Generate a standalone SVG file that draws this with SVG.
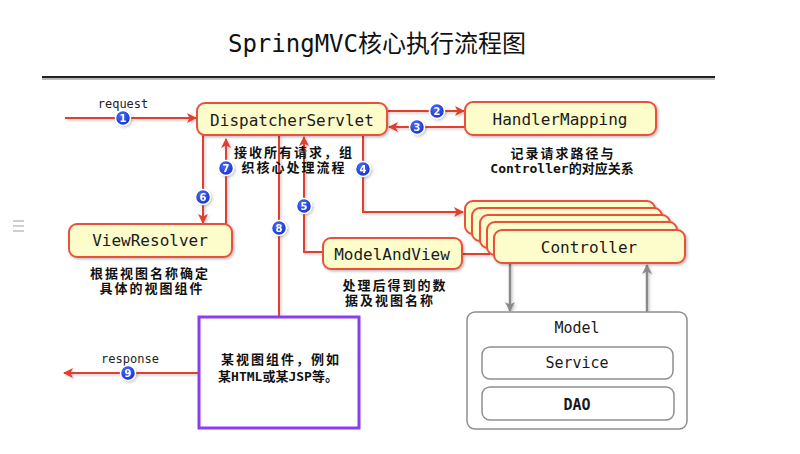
<svg xmlns="http://www.w3.org/2000/svg" width="800" height="454" viewBox="0 0 800 454">
<defs>
<filter id="sh" x="-10%" y="-10%" width="130%" height="140%">
<feDropShadow dx="1.5" dy="1.5" stdDeviation="1.2" flood-color="#000" flood-opacity="0.25"/>
</filter>
<filter id="lsh" x="-20%" y="-20%" width="140%" height="140%">
<feDropShadow dx="1.5" dy="1.5" stdDeviation="1" flood-color="#000" flood-opacity="0.2"/>
</filter>
<marker id="ar" viewBox="0 0 10 10" refX="9" refY="5" markerWidth="10" markerHeight="10" markerUnits="userSpaceOnUse" orient="auto">
<path d="M0,0 L10,5 L0,10 L2.5,5 Z" fill="#e2412f"/>
</marker>
<marker id="ag" viewBox="0 0 10 10" refX="9" refY="5" markerWidth="10" markerHeight="10" markerUnits="userSpaceOnUse" orient="auto">
<path d="M0,0 L10,5 L0,10 L2.5,5 Z" fill="#8a8a8a"/>
</marker>
<radialGradient id="bg" cx="40%" cy="35%" r="70%">
<stop offset="0" stop-color="#4a6cff"/>
<stop offset="1" stop-color="#1330c8"/>
</radialGradient>
</defs>
<style>
.box{fill:#fdfccb;stroke:#e8513e;stroke-width:2}
.lbl{font-family:"DejaVu Sans Mono","Liberation Mono",monospace;font-size:16px;fill:#1a1a1a;text-anchor:middle}
.cap{font-family:"DejaVu Sans Mono","Noto Sans CJK SC",monospace;font-size:13px;fill:#111;text-anchor:middle;font-weight:bold}
.cj{letter-spacing:2px}
.sm{font-family:"DejaVu Sans Mono","Liberation Mono",monospace;font-size:12px;fill:#222;text-anchor:middle}
.ln{fill:none;stroke:#e2412f;stroke-width:2}
.gl{fill:none;stroke:#8a8a8a;stroke-width:2.5}
.num circle{fill:url(#bg);stroke:#fff;stroke-width:1.5}
.num text{font-family:"DejaVu Sans","Liberation Sans",sans-serif;font-size:10px;font-weight:bold;fill:#fff;text-anchor:middle}
.gbox{fill:#fff;stroke:#8f8f8f;stroke-width:1.5}
.glbl{font-family:"DejaVu Sans Mono","Liberation Mono",monospace;font-size:15px;fill:#1a1a1a;text-anchor:middle}
</style>
<rect width="800" height="454" fill="#fff"/>
<g id="menu-icon" stroke="#cfcfcf" stroke-width="2">
<line x1="13" y1="221" x2="24" y2="221"/>
<line x1="13" y1="226" x2="24" y2="226"/>
<line x1="13" y1="231" x2="24" y2="231"/>
</g>
<g id="title">
<text x="377" y="52" font-family="DejaVu Sans Mono,Noto Sans CJK SC,monospace" font-size="24" fill="#111" text-anchor="middle">SpringMVC核心执行流程图</text>
<line x1="42" y1="79" x2="715" y2="79" stroke="#bbb" stroke-width="2"/>
<line x1="42" y1="77" x2="715" y2="77" stroke="#222" stroke-width="2"/>
</g>
<g id="connectors" filter="url(#lsh)">
<line class="ln" x1="65" y1="118" x2="196" y2="118" marker-end="url(#ar)"/>
<line class="ln" x1="388" y1="111" x2="464" y2="111" marker-end="url(#ar)"/>
<line class="ln" x1="465" y1="127" x2="389" y2="127" marker-end="url(#ar)"/>
<polyline class="ln" points="363,135 363,212 463,212" marker-end="url(#ar)"/>
<polyline class="ln" points="323,252 304,252 304,137" marker-end="url(#ar)"/>
<line class="ln" x1="462" y1="254" x2="490" y2="254"/>
<line class="ln" x1="203" y1="135" x2="203" y2="223" marker-end="url(#ar)"/>
<line class="ln" x1="226" y1="224" x2="226" y2="139" marker-end="url(#ar)"/>
<line class="ln" x1="279" y1="135" x2="279" y2="317"/>
<line class="ln" x1="199" y1="373" x2="64" y2="373" marker-end="url(#ar)"/>
<line class="gl" x1="510" y1="264" x2="510" y2="311" marker-end="url(#ag)"/>
<line class="gl" x1="647" y1="312" x2="647" y2="265" marker-end="url(#ag)"/>
</g>
<g id="dispatcher">
<rect class="box" x="197" y="103" width="190" height="32" rx="8" filter="url(#sh)"/>
<text class="lbl" x="292" y="126">DispatcherServlet</text>
<text class="cap cj" x="294" y="157">接收所有请求，组</text>
<text class="cap cj" x="294" y="172">织核心处理流程</text>
</g>
<g id="handlermapping">
<rect class="box" x="465" y="102" width="191" height="33" rx="8" filter="url(#sh)"/>
<text class="lbl" x="560" y="125">HandlerMapping</text>
<text class="cap cj" x="563" y="158">记录请求路径与</text>
<text class="cap" x="562" y="173">Controller的对应关系</text>
</g>
<g id="viewresolver">
<rect class="box" x="69" y="224" width="163" height="33" rx="8" filter="url(#sh)"/>
<text class="lbl" x="150" y="246">ViewResolver</text>
<text class="cap cj" x="150" y="278">根据视图名称确定</text>
<text class="cap cj" x="152" y="293">具体的视图组件</text>
</g>
<g id="modelandview">
<rect class="box" x="323" y="238" width="139" height="31" rx="8" filter="url(#sh)"/>
<text class="lbl" x="392" y="260">ModelAndView</text>
<text class="cap cj" x="395" y="290">处理后得到的数</text>
<text class="cap cj" x="390" y="305">据及视图名称</text>
</g>
<g id="controller">
<rect class="box" x="465" y="201" width="190" height="33" rx="8" filter="url(#sh)"/>
<rect class="box" x="472" y="208" width="190" height="33" rx="8" filter="url(#sh)"/>
<rect class="box" x="480" y="215" width="190" height="33" rx="8" filter="url(#sh)"/>
<rect class="box" x="487" y="222" width="190" height="33" rx="8" filter="url(#sh)"/>
<rect class="box" x="494" y="230" width="191" height="33" rx="8" filter="url(#sh)"/>
<text class="lbl" x="589" y="253">Controller</text>
</g>
<g id="view">
<rect x="199" y="317" width="160" height="111" fill="#fff" stroke="#8b3cf7" stroke-width="3"/>
<text class="cap cj" x="281" y="364">某视图组件，例如</text>
<text class="cap" x="278" y="381">某HTML或某JSP等。</text>
</g>
<g id="model">
<rect class="gbox" x="467" y="312" width="220" height="117" rx="8"/>
<text class="glbl" x="577" y="333">Model</text>
<rect class="gbox" x="482" y="347" width="191" height="32" rx="8"/>
<text class="glbl" x="577" y="368">Service</text>
<rect class="gbox" x="482" y="387" width="192" height="33" rx="8"/>
<text class="glbl" x="577" y="410" font-weight="bold">DAO</text>
</g>
<g id="labels">
<text class="sm" x="123" y="108">request</text>
<text class="sm" x="130" y="363">response</text>
</g>
<g id="numbers" class="num" filter="url(#lsh)">
<circle cx="123" cy="118" r="7.5"/><text x="123" y="121.5">1</text>
<circle cx="437" cy="111" r="7.5"/><text x="437" y="114.5">2</text>
<circle cx="417" cy="127" r="7.5"/><text x="417" y="130.5">3</text>
<circle cx="363" cy="169" r="7.5"/><text x="363" y="172.5">4</text>
<circle cx="304" cy="206" r="7.5"/><text x="304" y="209.5">5</text>
<circle cx="203" cy="197" r="7.5"/><text x="203" y="200.5">6</text>
<circle cx="226" cy="168" r="7.5"/><text x="226" y="171.5">7</text>
<circle cx="279" cy="228" r="7.5"/><text x="279" y="231.5">8</text>
<circle cx="128" cy="373" r="7.5"/><text x="128" y="376.5">9</text>
</g>
</svg>
